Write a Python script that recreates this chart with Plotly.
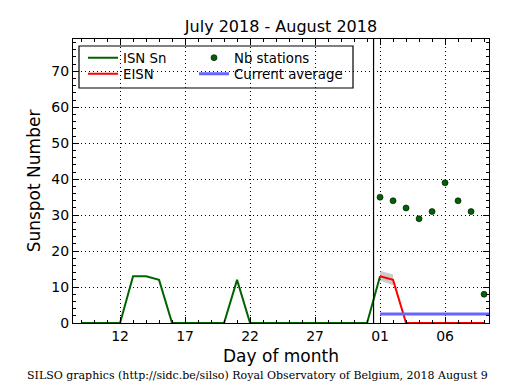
import plotly.graph_objects as go

# ---- data ----
days = ["2018-07-%02d 12:00" % d for d in range(9, 32)] + ["2018-08-%02d 12:00" % d for d in range(1, 10)]
isn_dates = days[:24]  # July 9 .. Aug 1
isn_values = [0, 0, 0, 0, 13, 13, 12, 0, 0, 0, 0, 0, 12, 0, 0, 0, 0, 0, 0, 0, 0, 0, 0, 13]

aug_dates = ["2018-08-%02d 12:00" % d for d in range(1, 10)]
eisn_values = [13, 12, 0, 0, 0, 0, 0, 0, 0]
eisn_low = [11.8, 10.5]
eisn_high = [14.5, 13.5]
nb_stations = [35, 34, 32, 29, 31, 39, 34, 31, 8]
avg_dates = ["2018-08-01 12:00", "2018-08-10 12:00"]
avg_values = [2.5, 2.5]

tick_vals = ["2018-07-12 12:00", "2018-07-17 12:00", "2018-07-22 12:00",
             "2018-07-27 12:00", "2018-08-01 12:00", "2018-08-06 12:00"]
tick_text = ["12", "17", "22", "27", "01", "06"]
month_boundary = "2018-08-01 00:00"

# ---- geometry helpers (paper coords) ----
L, R, T, B = 73, 489, 39, 323
W, H = 515, 390
def px(x):
    return (x - L) / (R - L)
def py(y):
    return (B - y) / (B - T)

fig = go.Figure()

# uncertainty band
fig.add_trace(go.Scatter(x=aug_dates[:2] + aug_dates[:2][::-1], y=eisn_high + eisn_low[::-1],
                         fill="toself", fillcolor="rgba(170,170,170,0.6)", line=dict(width=0),
                         mode="lines", showlegend=False, hoverinfo="skip"))

fig.add_trace(go.Scatter(x=isn_dates, y=isn_values, mode="lines", name="ISN Sn",
                         line=dict(color="#006400", width=2), legend="legend"))
fig.add_trace(go.Scatter(x=aug_dates, y=eisn_values, mode="lines", name="EISN",
                         line=dict(color="#ff0000", width=2), legend="legend2"))
fig.add_trace(go.Scatter(x=aug_dates, y=nb_stations, mode="markers", name="Nb stations",
                         marker=dict(color="#006400", size=6, line=dict(color="black", width=0.6)),
                         legend="legend3", cliponaxis=False))
fig.add_trace(go.Scatter(x=avg_dates, y=avg_values, mode="lines", name="Current average",
                         line=dict(color="#6666ff", width=3), legend="legend4"))

font = dict(family="DejaVu Sans", size=14, color="black")
leg_font = dict(family="DejaVu Sans", size=13.3, color="black")
leg_common = dict(bgcolor="rgba(0,0,0,0)", borderwidth=0, font=leg_font,
                  xanchor="left", yanchor="middle", itemclick=False)

# legend box
fig.add_shape(type="rect", xref="paper", yref="paper",
              x0=px(79), x1=px(353), y0=py(88), y1=py(46),
              line=dict(color="black", width=1.2), fillcolor="white", layer="below")

# month boundary
fig.add_shape(type="line", xref="x", yref="paper", x0=month_boundary, x1=month_boundary,
              y0=0, y1=1, line=dict(color="black", width=1.2))

axis_common = dict(showline=True, linecolor="black", linewidth=1.2, mirror="allticks",
                   ticks="inside", ticklen=6, tickcolor="black",
                   showgrid=True, gridcolor="black", griddash="1px,3px", gridwidth=1,
                   zeroline=False, tickfont=font)

fig.update_layout(
    width=W, height=H,
    margin=dict(l=L, r=W - R, t=T, b=H - B),
    plot_bgcolor="white", paper_bgcolor="white",
    font=font,
    title=dict(text="July 2018 - August 2018", x=0.5 * (L + R) / W, xanchor="center",
               y=1 - 26 / H, yanchor="middle", font=dict(family="DejaVu Sans", size=16)),
    xaxis=dict(axis_common, type="date", range=["2018-07-08 21:07", "2018-08-09 21:07"],
               tickvals=tick_vals, ticktext=tick_text,
               minor=dict(ticks="inside", ticklen=3, tickcolor="black", dtick=86400000,
                          tick0="2018-07-12 12:00", showgrid=False),
               title=dict(text="Day of month", font=dict(family="DejaVu Sans", size=17), standoff=7)),
    yaxis=dict(axis_common, range=[0, 79], tickvals=[0, 10, 20, 30, 40, 50, 60, 70],
               minor=dict(ticks="inside", ticklen=3, tickcolor="black", dtick=2, tick0=0, showgrid=False),
               title=dict(text="Sunspot Number", font=dict(family="DejaVu Sans", size=17), standoff=6)),
    legend=dict(leg_common, x=px(83), y=py(58)),
    legend2=dict(leg_common, x=px(83), y=py(74)),
    legend3=dict(leg_common, x=px(194), y=py(58)),
    legend4=dict(leg_common, x=px(194), y=py(74)),
    annotations=[dict(text="SILSO graphics (http://sidc.be/silso) Royal Observatory of Belgium, 2018 August 9",
                      xref="paper", yref="paper", x=(257 - L) / (R - L), y=py(375),
                      xanchor="center", yanchor="middle", showarrow=False,
                      font=dict(family="DejaVu Serif", size=11, color="black"))],
)

fig.write_html("out.html", config={"displayModeBar": False},
               post_script="document.body.style.margin='0';document.body.style.overflow='hidden';")
